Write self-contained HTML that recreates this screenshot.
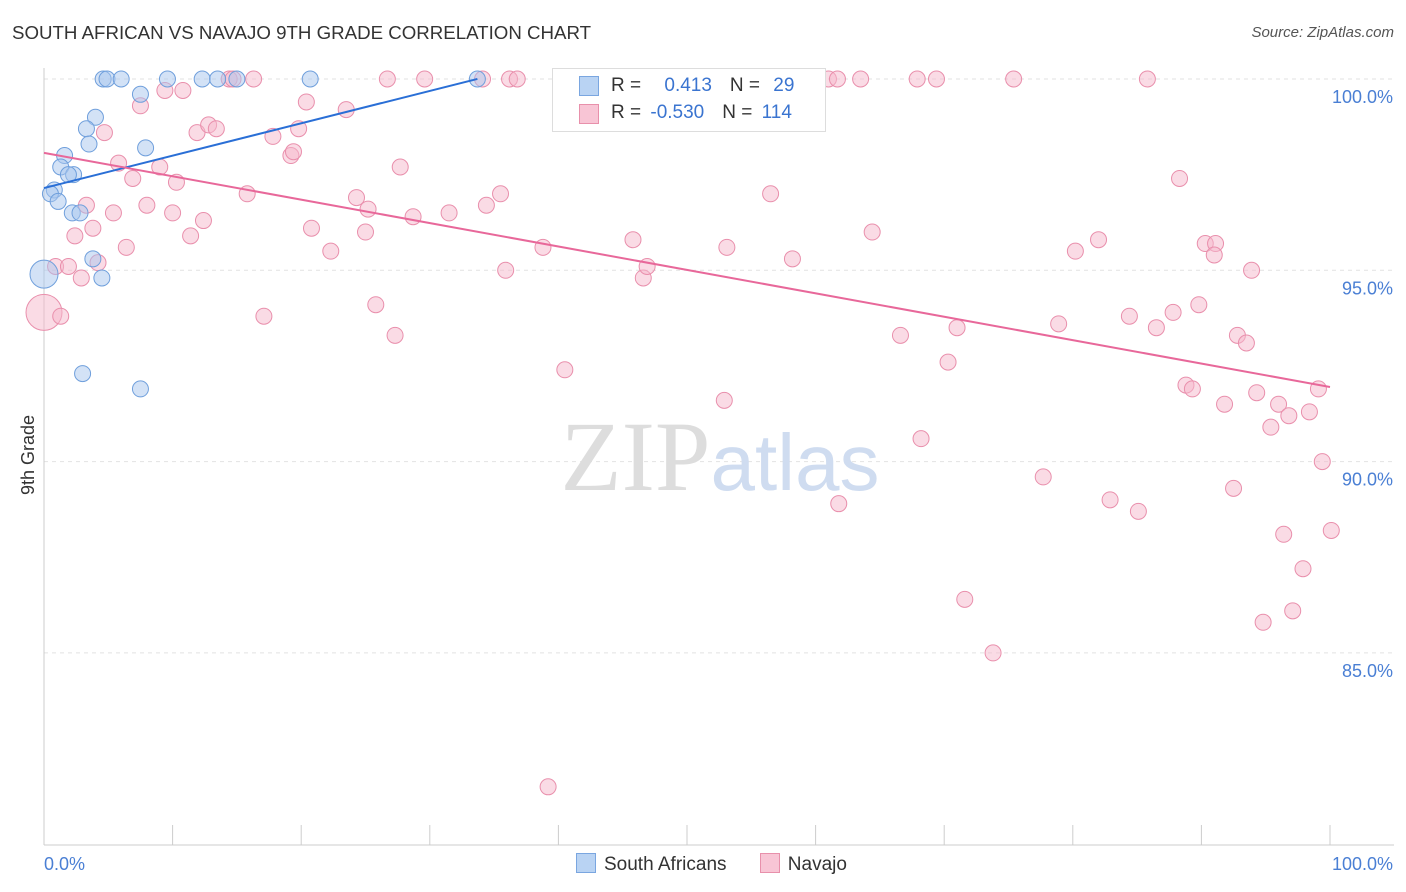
<!DOCTYPE html>
<html><head><meta charset="utf-8"><style>
body{margin:0;background:#fff;font-family:"Liberation Sans",sans-serif;}
#wrap{position:relative;width:1406px;height:892px;overflow:hidden}
.t{position:absolute;white-space:nowrap}
</style></head><body>
<div id="wrap">
<div class="t" style="left:12px;top:22px;font-size:18.7px;color:#333">SOUTH AFRICAN VS NAVAJO 9TH GRADE CORRELATION CHART</div>
<div class="t" style="right:12px;top:24px;font-size:15px;color:#555;font-style:italic">Source: ZipAtlas.com</div>
<svg id="svg" width="1406" height="892" style="position:absolute;left:0;top:0"></svg>
</div>
<script>
const yTicks=[100,95,90,85];
const yTickLabels=["100.0%","95.0%","90.0%","85.0%"];
const blueX=[4.6,4.9,6.0,9.6,12.3,13.5,15.0,20.7,33.7,7.5,4.0,3.3,3.5,7.9,1.6,1.3,2.3,1.9,0.8,0.5,1.1,2.2,2.8,3.8,4.5,0,3.0,7.5];
const blueY=[100,100,100,100,100,100,100,100,100,99.6,99.0,98.7,98.3,98.2,98.0,97.7,97.5,97.5,97.1,97.0,96.8,96.5,96.5,95.3,94.8,94.9,92.3,91.9];
const pinkX=[0,0.9,1.9,1.3,2.9,4.2,2.4,3.8,3.3,5.4,6.4,4.7,5.8,6.9,7.5,9.0,8.0,9.4,10.8,10.3,10.0,11.4,12.4,11.9,12.8,13.4,14.4,14.7,16.3,15.8,17.1,17.8,19.2,19.4,19.8,20.4,20.8,22.3,23.5,24.3,25.2,25.0,25.8,27.3,27.7,28.7,31.5,26.7,29.6,34.1,36.2,36.8,35.5,34.4,35.9,38.8,40.5,39.2,45.8,46.6,46.9,52.4,53.1,52.9,56.5,58.2,61.0,61.7,63.5,61.8,64.4,66.6,67.9,69.4,70.3,71.0,68.2,71.6,73.8,75.4,77.7,78.9,80.2,82.0,82.9,85.1,84.4,85.8,86.5,87.8,88.3,88.8,89.3,89.8,90.3,91.1,91.0,91.8,92.5,92.8,93.5,93.9,94.3,95.4,96.0,96.4,96.8,97.1,97.9,98.4,99.1,99.4,100.1,94.8];
const pinkY=[93.9,95.1,95.1,93.8,94.8,95.2,95.9,96.1,96.7,96.5,95.6,98.6,97.8,97.4,99.3,97.7,96.7,99.7,99.7,97.3,96.5,95.9,96.3,98.6,98.8,98.7,100,100,100,97.0,93.8,98.5,98.0,98.1,98.7,99.4,96.1,95.5,99.2,96.9,96.6,96.0,94.1,93.3,97.7,96.4,96.5,100,100,100,100,100,97.0,96.7,95.0,95.6,92.4,81.5,95.8,94.8,95.1,100,95.6,91.6,97.0,95.3,100,100,100,88.9,96.0,93.3,100,100,92.6,93.5,90.6,86.4,85.0,100,89.6,93.6,95.5,95.8,89.0,88.7,93.8,100,93.5,93.9,97.4,92.0,91.9,94.1,95.7,95.7,95.4,91.5,89.3,93.3,93.1,95.0,91.8,90.9,91.5,88.1,91.2,86.1,87.2,91.3,91.9,90.0,88.2,85.8];
// trend lines [intercept, slope, xEnd]
const blueTrend=[97.15,0.0846,33.7];
const pinkTrend=[98.07,-0.0612,100];

const NS="http://www.w3.org/2000/svg";
const svg=document.getElementById('svg');
const X=v=>44+v*12.86;
const Y=v=>79+(100-v)*38.26;
function mk(tag,attrs,parent){const e=document.createElementNS(NS,tag);for(const k in attrs)e.setAttribute(k,attrs[k]);(parent||svg).appendChild(e);return e;}

yTicks.forEach((t,i)=>{
 const g=mk('line',{x1:44,x2:1394,y1:Y(t),y2:Y(t),stroke:'#e2e2e2','stroke-dasharray':'4,4'});
 
 
 const tx=mk('text',{x:1393,y:Y(t)+24,'text-anchor':'end','font-size':18,fill:'#4a7fd4','font-family':'Liberation Sans'});
 tx.textContent=yTickLabels[i];
 
 
});
const ax=mk('line',{x1:44,x2:44,y1:68,y2:845,stroke:'#ccc'});


const bx=mk('line',{x1:44,x2:1394,y1:845,y2:845,stroke:'#ccc'});


for(let i=0;i<=10;i++){
 const tk=mk('line',{x1:X(i*10),x2:X(i*10),y1:825,y2:845,stroke:'#ccc'});
 
 
}
[['0.0%',44,'start'],['100.0%',1393,'end']].forEach(a=>{
 const t=mk('text',{x:a[1],y:870,'text-anchor':a[2],'font-size':18,fill:'#4a7fd4','font-family':'Liberation Sans'});
 t.textContent=a[0];
 
 
});
const yt=mk('text',{x:34,y:455,'text-anchor':'middle','font-size':18,fill:'#333',transform:'rotate(-90 34 455)','font-family':'Liberation Sans'});
yt.textContent='9th Grade';


const wm=mk('text',{x:720,y:490,'text-anchor':'middle','font-size':100,fill:'#ddd','font-family':'Liberation Serif'});
wm.innerHTML='ZIP<tspan fill="#cfdcf0" font-family="Liberation Sans" font-size="80">atlas</tspan>';



function pts(xs,ys,fill,stroke,name,bigR){
 const bi=xs.findIndex(v=>v===0);
 xs.forEach((x,i)=>{
  const c=mk('circle',{cx:X(x),cy:Y(ys[i]),r:i===bi?bigR:8,fill:fill,'fill-opacity':0.5,stroke:stroke,'stroke-width':1});
  
  
 });
}
pts(pinkX,pinkY,'#f6b8cb','#e98fac','navajo-point',18);
pts(blueX,blueY,'#a8c6ee','#6f9fdc','south-african-point',14);
function trend(tr,color,name){
 const l=mk('line',{x1:X(0),y1:Y(tr[0]),x2:X(tr[2]),y2:Y(tr[0]+tr[1]*tr[2]),stroke:color,'stroke-width':2});
 
 
}
trend(blueTrend,'#2a6fd6','south-african-trendline');
trend(pinkTrend,'#e8689a','navajo-trendline');
</script>
<div class="t" style="left:552px;top:68px;width:272px;height:62px;background:#fff;border:1px solid #ddd;font-size:19px;color:#333">
 <div style="position:absolute;left:26px;top:7px;width:18px;height:18px;background:#b9d3f3;border:1px solid #7aa6e0"></div>
 <div style="position:absolute;left:58px;top:6px">R = <span style="color:#3a74d0;margin-left:18px">0.413</span><span style="margin-left:18px">N = </span><span style="color:#3a74d0;margin-left:8px">29</span></div>
 <div style="position:absolute;left:26px;top:35px;width:18px;height:18px;background:#f8c5d5;border:1px solid #e890ab"></div>
 <div style="position:absolute;left:58px;top:33px">R = <span style="color:#3a74d0;margin-left:4px">-0.530</span><span style="margin-left:18px">N = </span><span style="color:#3a74d0;margin-left:4px">114</span></div>
</div>
<div class="t" style="left:576px;top:853px;font-size:19px;color:#333">
 <span style="display:inline-block;width:18px;height:18px;background:#b9d3f3;border:1px solid #7aa6e0;vertical-align:-3px;margin-right:8px"></span>South Africans
 <span style="display:inline-block;width:18px;height:18px;background:#f8c5d5;border:1px solid #e890ab;vertical-align:-3px;margin:0 8px 0 28px"></span>Navajo
</div>
</body></html>
